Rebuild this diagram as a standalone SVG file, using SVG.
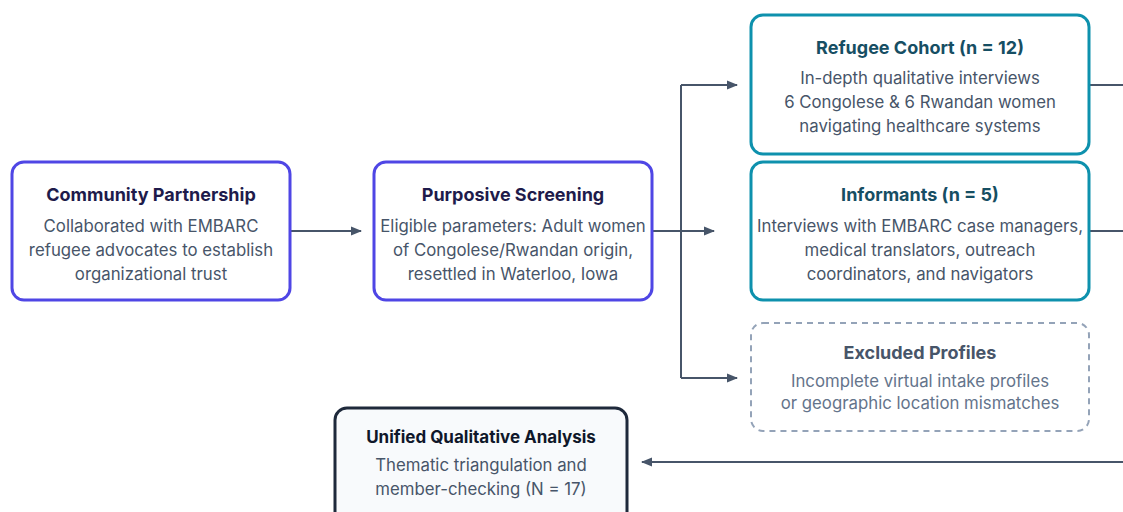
<svg xmlns="http://www.w3.org/2000/svg" width="1123" height="512" viewBox="0 0 1123 512">
  <style>
    text { font-family: Inter, "Noto Sans", "Liberation Sans", sans-serif; text-anchor: middle; }
    .title { font-size: 18px; font-weight: 700; }
    .body { font-size: 16.8px; fill: #475569; }
    .stage rect { fill: #ffffff; stroke: #4f46e5; stroke-width: 3; }
    .stage .title { fill: #1e1b4b; }
    .cohort rect { fill: #ffffff; stroke: #0e91ad; stroke-width: 3; }
    .cohort .title { fill: #164e63; }
    .excluded rect { fill: #ffffff; stroke: #94a3b8; stroke-width: 2; stroke-dasharray: 6 5; }
    .excluded .title { fill: #475569; }
    .excluded .body { fill: #64748b; }
    .analysis rect { fill: #f8fafc; stroke: #1e293b; stroke-width: 3; }
    .analysis .title { fill: #0f172a; font-size: 17px; }
    .conn { fill: none; stroke: #475569; stroke-width: 2; }
  </style>
  <defs>
    <marker id="arrow" markerWidth="11" markerHeight="10" refX="10" refY="5" orient="auto" markerUnits="userSpaceOnUse">
      <path d="M0,0.5 L11,5 L0,9.5 Z" fill="#475569"/>
    </marker>
  </defs>

  <rect width="1123" height="512" fill="#ffffff"/>

  <g id="connectors">
    <line class="conn" x1="290" y1="231" x2="361" y2="231" marker-end="url(#arrow)"/>
    <line class="conn" x1="652" y1="231" x2="714" y2="231" marker-end="url(#arrow)"/>
    <line class="conn" x1="681" y1="85" x2="681" y2="378"/>
    <polyline class="conn" points="681,85 737,85" marker-end="url(#arrow)"/>
    <polyline class="conn" points="681,378 737,378" marker-end="url(#arrow)"/>
    <line class="conn" x1="1089" y1="85" x2="1123" y2="85"/>
    <line class="conn" x1="1089" y1="231" x2="1123" y2="231"/>
    <line class="conn" x1="1123" y1="462" x2="642" y2="462" marker-end="url(#arrow)"/>
  </g>

  <g id="community-partnership" class="stage">
    <rect x="12" y="162" width="278" height="138" rx="12"/>
    <text class="title" x="151" y="201">Community Partnership</text>
    <text class="body" x="151" y="232">Collaborated with EMBARC</text>
    <text class="body" x="151" y="256">refugee advocates to establish</text>
    <text class="body" x="151" y="280">organizational trust</text>
  </g>

  <g id="purposive-screening" class="stage">
    <rect x="374" y="162" width="278" height="138" rx="12"/>
    <text class="title" x="513" y="201">Purposive Screening</text>
    <text class="body" x="513" y="232">Eligible parameters: Adult women</text>
    <text class="body" x="513" y="256">of Congolese/Rwandan origin,</text>
    <text class="body" x="513" y="280">resettled in Waterloo, Iowa</text>
  </g>

  <g id="refugee-cohort" class="cohort">
    <rect x="751" y="15" width="338" height="139" rx="12"/>
    <text class="title" x="920" y="54">Refugee Cohort (n = 12)</text>
    <text class="body" x="920" y="84">In-depth qualitative interviews</text>
    <text class="body" x="920" y="108">6 Congolese &amp; 6 Rwandan women</text>
    <text class="body" x="920" y="132">navigating healthcare systems</text>
  </g>

  <g id="informants" class="cohort">
    <rect x="751" y="162" width="338" height="138" rx="12"/>
    <text class="title" x="920" y="201">Informants (n = 5)</text>
    <text class="body" x="920" y="232">Interviews with EMBARC case managers,</text>
    <text class="body" x="920" y="256">medical translators, outreach</text>
    <text class="body" x="920" y="280">coordinators, and navigators</text>
  </g>

  <g id="excluded-profiles" class="excluded">
    <rect x="751" y="323" width="338" height="108" rx="12"/>
    <text class="title" x="920" y="359">Excluded Profiles</text>
    <text class="body" x="920" y="387">Incomplete virtual intake profiles</text>
    <text class="body" x="920" y="409">or geographic location mismatches</text>
  </g>

  <g id="unified-analysis" class="analysis">
    <rect x="335" y="408" width="292" height="130" rx="12"/>
    <text class="title" x="481" y="443">Unified Qualitative Analysis</text>
    <text class="body" x="481" y="471">Thematic triangulation and</text>
    <text class="body" x="481" y="495">member-checking (N = 17)</text>
  </g>
</svg>
